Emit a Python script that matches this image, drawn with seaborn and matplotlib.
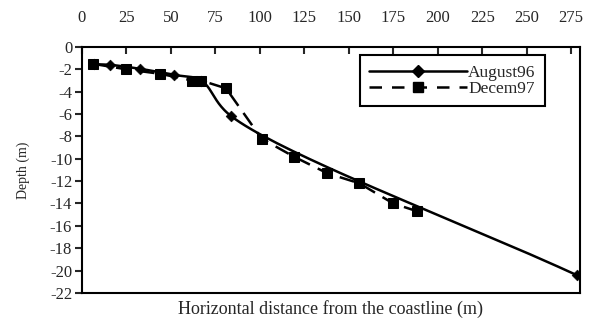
import numpy as np
import pandas as pd
import seaborn as sns
import matplotlib.pyplot as plt
from matplotlib.lines import Line2D

# August96 survey (diamonds, solid smoothed line)
aug_x = [7, 16, 32.5, 52, 67, 84, 278]
aug_y = [-1.55, -1.6, -1.95, -2.5, -3.0, -6.2, -20.4]

# Decem97 survey (squares, dashed line)
dec_x = [6, 25, 44, 62, 67, 81, 101, 119, 138, 156, 175, 188.5]
dec_y = [-1.5, -2.0, -2.4, -3.0, -3.0, -3.7, -8.2, -9.8, -11.3, -12.2, -14.0, -14.7]

x_ticks = list(range(0, 276, 25))
y_ticks = list(range(0, -23, -2))


def smooth(xs, ys, yscale=6.3, n=40):
    # centripetal Catmull-Rom, done in screen-like proportions
    pts = np.column_stack([np.asarray(xs, float), np.asarray(ys, float) * yscale])
    pts = np.vstack([2 * pts[0] - pts[1], pts, 2 * pts[-1] - pts[-2]])
    out = []
    for i in range(1, len(pts) - 2):
        p0, p1, p2, p3 = pts[i - 1:i + 3]
        t0 = 0.0
        t1 = t0 + np.linalg.norm(p1 - p0) ** 0.5
        t2 = t1 + np.linalg.norm(p2 - p1) ** 0.5
        t3 = t2 + np.linalg.norm(p3 - p2) ** 0.5
        t = np.linspace(t1, t2, n)[:, None]
        a1 = (t1 - t) / (t1 - t0) * p0 + (t - t0) / (t1 - t0) * p1
        a2 = (t2 - t) / (t2 - t1) * p1 + (t - t1) / (t2 - t1) * p2
        a3 = (t3 - t) / (t3 - t2) * p2 + (t - t2) / (t3 - t2) * p3
        b1 = (t2 - t) / (t2 - t0) * a1 + (t - t0) / (t2 - t0) * a2
        b2 = (t3 - t) / (t3 - t1) * a2 + (t - t1) / (t3 - t1) * a3
        out.append((t2 - t) / (t2 - t1) * b1 + (t - t1) / (t2 - t1) * b2)
    out = np.vstack(out)
    return out[:, 0], out[:, 1] / yscale


sns.set_style("white")
plt.rcParams['font.family'] = ['Liberation Serif', 'DejaVu Serif']
plt.rcParams['axes.unicode_minus'] = False

fig = plt.figure(figsize=(5.98, 3.24), dpi=100)
ax = fig.add_axes([0.137, 0.096, 0.833, 0.759])

sx, sy = smooth(aug_x, aug_y)
smooth_df = pd.DataFrame({'x': sx, 'y': sy})
sns.lineplot(data=smooth_df, x='x', y='y', ax=ax, color='black', lw=1.8,
             sort=False, estimator=None)
aug_df = pd.DataFrame({'x': aug_x, 'y': aug_y})
sns.scatterplot(data=aug_df, x='x', y='y', ax=ax, marker='D', s=30,
                color='black', edgecolor='black', zorder=3)

dec_df = pd.DataFrame({'x': dec_x, 'y': dec_y})
sns.lineplot(data=dec_df, x='x', y='y', ax=ax, color='black', lw=1.8,
             linestyle=(0, (6, 3.5)), marker='s', markersize=7,
             markeredgecolor='black', sort=False, estimator=None)

ax.set_xlim(0, 280)
ax.set_ylim(-22, 0)
ax.set_xticks(x_ticks)
ax.set_yticks(y_ticks)
ax.xaxis.tick_top()
ax.tick_params(axis='x', direction='in', length=5, width=1.5, labelsize=12,
               pad=15, top=True, bottom=False)
ax.tick_params(axis='y', direction='out', length=5, width=1.5, labelsize=12,
               pad=2, left=True)
ax.set_xlabel("Horizontal distance from the coastline (m)", fontsize=13,
              labelpad=5)
ax.xaxis.set_label_position('bottom')
ax.set_ylabel("Depth (m)", fontsize=10, labelpad=14)
for sp in ax.spines.values():
    sp.set_visible(True)
    sp.set_color('black')
    sp.set_linewidth(1.5)

handles = [
    Line2D([], [], color='black', lw=1.8, marker='D', markersize=6,
           label='August96'),
    Line2D([], [], color='black', lw=1.8, linestyle=(0, (5, 4)), marker='s',
           markersize=7, label='Decem97'),
]
leg = ax.legend(handles=handles, loc='upper right',
                bbox_to_anchor=(0.93, 0.967), fontsize=12.5, fancybox=False,
                framealpha=1, edgecolor='black', handlelength=5.6,
                borderpad=0.55, labelspacing=0.0, handletextpad=0.1,
                borderaxespad=0)
leg.get_frame().set_linewidth(1.5)

fig.savefig("out.png", dpi=100)
